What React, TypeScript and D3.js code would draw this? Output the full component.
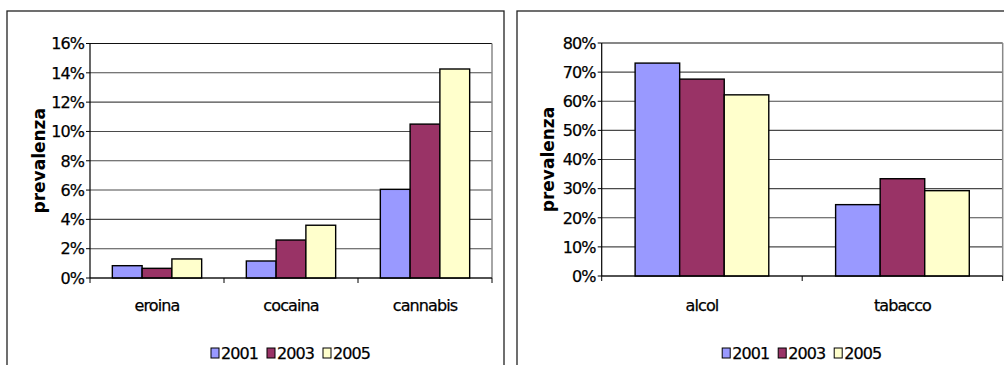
import React from "react";
import * as d3 from "d3";

const years = ["2001", "2003", "2005"];
const colors = ["#9999FF", "#993366", "#FFFFCC"];

const drugCategories = ["eroina", "cocaina", "cannabis"];
const drug2001 = [0.84, 1.16, 6.05];
const drug2003 = [0.66, 2.59, 10.5];
const drug2005 = [1.3, 3.6, 14.26];
const drugTicks = [0, 2, 4, 6, 8, 10, 12, 14, 16];

const legalCategories = ["alcol", "tabacco"];
const legal2001 = [73.1, 24.5];
const legal2003 = [67.6, 33.4];
const legal2005 = [62.2, 29.3];
const legalTicks = [0, 10, 20, 30, 40, 50, 60, 70, 80];

const FONT = "'DejaVu Sans', Verdana, sans-serif";
const textStyle = { stroke: "#000", strokeWidth: 0.25 };

type PanelProps = {
  box: [number, number, number, number];
  plot: { x0: number; x1: number; y0: number; y1: number };
  categories: string[];
  series: number[][];
  ticks: number[];
  labelX: number;
};

function Panel({ box, plot, categories, series, ticks, labelX }: PanelProps) {
  const y = d3.scaleLinear().domain([0, ticks[ticks.length - 1]]).range([plot.y1, plot.y0]);
  const x = d3.scaleBand<string>().domain(categories).range([plot.x0, plot.x1]).padding(0);
  const bw = x.bandwidth();
  const barW = bw / (years.length + 1.5);
  const inner = d3
    .scaleBand<string>()
    .domain(years)
    .range([(bw - barW * years.length) / 2, (bw + barW * years.length) / 2])
    .padding(0);

  const boundaries = [...categories.map((c) => x(c) as number), plot.x1];
  const legendItemW = 56;
  const legendW = legendItemW * years.length - 8;
  const legendX0 = (plot.x0 + plot.x1) / 2 - legendW / 2;
  const legendY = 353;

  return (
    <g>
      <rect x={box[0]} y={box[1]} width={box[2]} height={box[3]} fill="#fff" stroke="#222" strokeWidth={1.3} />
      {ticks.map((t) => (
        <line key={"g" + t} x1={plot.x0} x2={plot.x1} y1={y(t)} y2={y(t)} stroke={t === ticks[ticks.length - 1] ? "#111" : "#4a4a4a"} strokeWidth={1.1} />
      ))}
      <line x1={plot.x1} x2={plot.x1} y1={plot.y0} y2={plot.y1} stroke="#888" strokeWidth={1.5} />
      {categories.map((c, ci) =>
        years.map((yr, si) => {
          const v = series[si][ci];
          const bx = (x(c) as number) + (inner(yr) as number);
          return (
            <rect key={c + yr} x={bx} y={y(v)} width={barW} height={y(0) - y(v)} fill={colors[si]} stroke="#000" strokeWidth={1.4} />
          );
        })
      )}
      <line x1={plot.x0} x2={plot.x0} y1={plot.y0} y2={plot.y1} stroke="#000" strokeWidth={1.2} />
      {ticks.map((t) => (
        <g key={"t" + t}>
          <line x1={plot.x0 - 4} x2={plot.x0} y1={y(t)} y2={y(t)} stroke="#000" strokeWidth={1} />
          <text x={plot.x0 - 6} y={y(t)} dy="0.36em" textAnchor="end" fontFamily={FONT} fontSize={16} letterSpacing={-0.9} fill="#000" style={textStyle}>
            {t + "%"}
          </text>
        </g>
      ))}
      <line x1={plot.x0} x2={plot.x1} y1={plot.y1} y2={plot.y1} stroke="#000" strokeWidth={1.2} />
      {boundaries.map((b, i) => (
        <line key={"xb" + i} x1={b} x2={b} y1={plot.y1} y2={plot.y1 + 5} stroke="#000" strokeWidth={1} />
      ))}
      {categories.map((c) => (
        <text key={"cl" + c} x={(x(c) as number) + bw / 2} y={311} textAnchor="middle" fontFamily={FONT} fontSize={16} letterSpacing={-0.9} fill="#000" style={textStyle}>
          {c}
        </text>
      ))}
      <text
        transform={`translate(${labelX},${(plot.y0 + plot.y1) / 2}) rotate(-90)`}
        textAnchor="middle"
        dy="0.35em"
        fontFamily={FONT}
        fontWeight="bold"
        fontSize={17}
        fill="#000"
      >
        prevalenza
      </text>
      {years.map((yr, i) => (
        <g key={"lg" + yr} transform={`translate(${legendX0 + i * legendItemW},${legendY})`}>
          <rect x={0} y={-5} width={8} height={10} fill={colors[i]} stroke="#000" strokeWidth={1} />
          <text x={10} y={0} dy="0.36em" fontFamily={FONT} fontSize={16} letterSpacing={-0.9} fill="#000" style={textStyle}>
            {yr}
          </text>
        </g>
      ))}
    </g>
  );
}

export default function App() {
  return (
    <svg width={1004} height={365} style={{ position: "absolute", left: 0, top: 0, background: "#fff" }}>
      <rect x={0} y={0} width={1004} height={365} fill="#fff" />
      <Panel
        box={[7, 11, 497, 370]}
        plot={{ x0: 90, x1: 492, y0: 43.5, y1: 278 }}
        categories={drugCategories}
        series={[drug2001, drug2003, drug2005]}
        ticks={drugTicks}
        labelX={39}
      />
      <Panel
        box={[517, 11, 500, 370]}
        plot={{ x0: 601.7, x1: 1002.7, y0: 43, y1: 276 }}
        categories={legalCategories}
        series={[legal2001, legal2003, legal2005]}
        ticks={legalTicks}
        labelX={548.5}
      />
    </svg>
  );
}
